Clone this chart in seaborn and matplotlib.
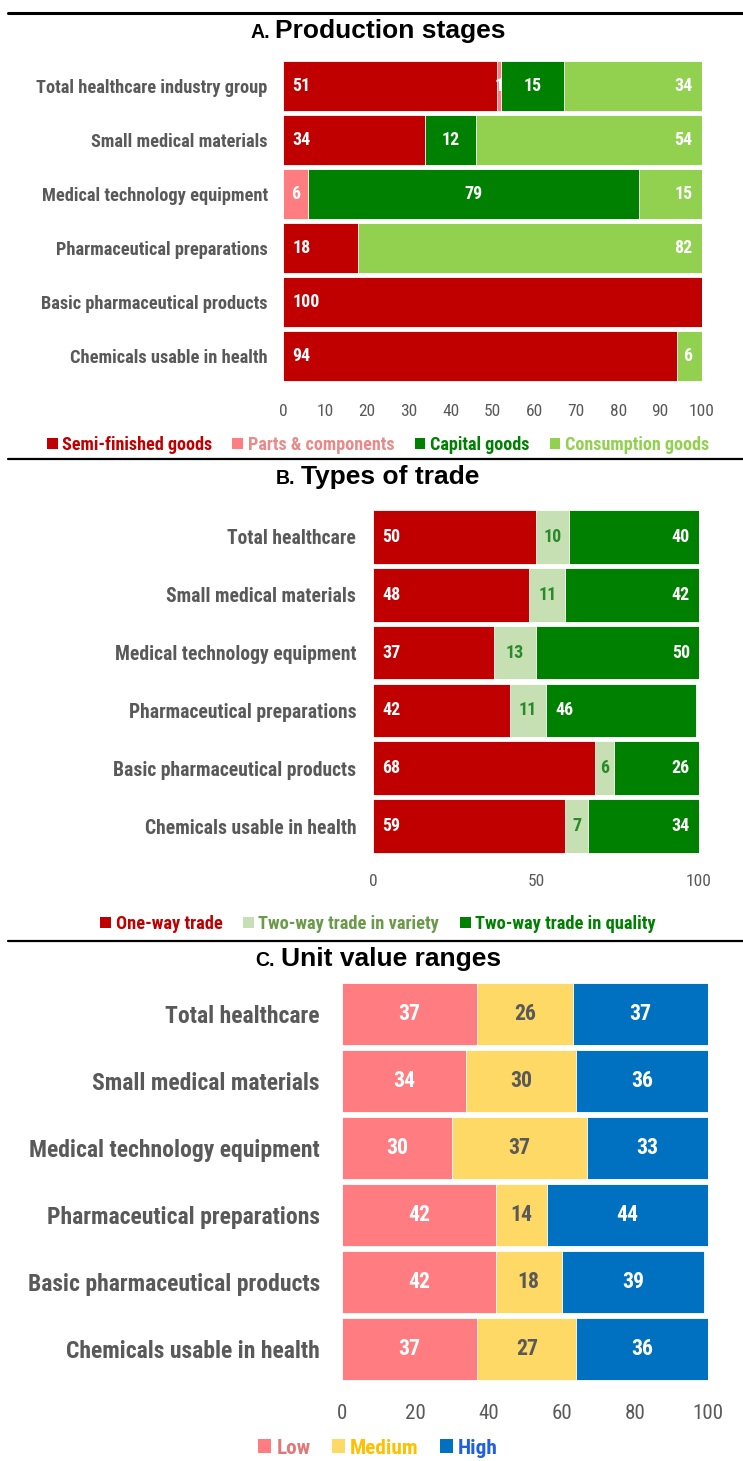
import numpy as np
import matplotlib.pyplot as plt
import seaborn as sns
from matplotlib import font_manager
from matplotlib.patches import Patch
from matplotlib.lines import Line2D

sns.set_theme(style="white")

# use a condensed face if one is installed, otherwise plain Liberation Sans
installed = {f.name for f in font_manager.fontManager.ttflist}
NARROW = next((n for n in ["Liberation Sans Narrow", "Roboto Condensed", "Open Sans Condensed",
                           "DejaVu Sans Condensed"] if n in installed), None)
K = 1.12 if NARROW else 1.0
plt.rcParams['font.family'] = ([NARROW] if NARROW else []) + ['Liberation Sans', 'DejaVu Sans']
TITLE_FONT = ['Liberation Sans', 'DejaVu Sans']

GREY = "#595959"

# ---- data ----
# A. Production stages (share %, top to bottom)
cats_a = ["Total healthcare industry group", "Small medical materials",
          "Medical technology equipment", "Pharmaceutical preparations",
          "Basic pharmaceutical products", "Chemicals usable in health"]
semi_finished = [51, 34, 0, 18, 100, 94]
parts_components = [1, 0, 6, 0, 0, 0]
capital_goods = [15, 12, 79, 0, 0, 0]
consumption_goods = [34, 54, 15, 82, 0, 6]
series_a = ["Semi-finished goods", "Parts & components", "Capital goods", "Consumption goods"]

# B. Types of trade
cats_b = ["Total healthcare", "Small medical materials", "Medical technology equipment",
          "Pharmaceutical preparations", "Basic pharmaceutical products",
          "Chemicals usable in health"]
one_way = [50, 48, 37, 42, 68, 59]
two_way_variety = [10, 11, 13, 11, 6, 7]
two_way_quality = [40, 42, 50, 46, 26, 34]
series_b = ["One-way trade", "Two-way trade in variety", "Two-way trade in quality"]

# C. Unit value ranges
cats_c = cats_b
low = [37, 34, 30, 42, 42, 37]
medium = [26, 30, 37, 14, 18, 27]
high = [37, 36, 33, 44, 39, 36]
series_c = ["Low", "Medium", "High"]

W, H = 743, 1461
fig = plt.figure(figsize=(W / 100, H / 100), dpi=100)


def px_axes(x0, x1, y0, y1):
    return fig.add_axes([x0 / W, 1 - y1 / H, (x1 - x0) / W, (y1 - y0) / H])


def stacked(ax, cats, values, colors, label_colors, aligns, pad, fs, overrides=None):
    vals = np.array(values, dtype=float)
    cum = np.cumsum(vals, axis=0)
    # draw cumulative totals from the back so each series sits on top of the previous
    for i in reversed(range(len(vals))):
        sns.barplot(x=cum[i], y=cats, color=colors[i], width=0.93, orient="h",
                    saturation=1, edgecolor="white", linewidth=0.6, ax=ax)
    overrides = overrides or {}
    for i in range(len(vals)):
        for j in range(len(cats)):
            v = vals[i, j]
            if v <= 0:
                continue
            left = cum[i, j] - v
            al = overrides.get((i, j), aligns[i])
            if al == "left":
                x, ha = left + pad, "left"
            elif al == "right":
                x, ha = min(cum[i, j], 100) - pad, "right"
            else:
                x, ha = left + v / 2, "center"
            ax.text(x, j, f"{v:.0f}", ha=ha, va="center", color=label_colors[i],
                    fontsize=fs * K, fontweight="bold")
    ax.set_xlim(0, 100)
    ax.set_xlabel("")
    ax.set_ylabel("")
    sns.despine(ax=ax, left=True, bottom=True)
    ax.tick_params(length=0)


def style_ticks(ax, xpad, xfs, ypad, yfs):
    ax.tick_params(axis="x", pad=xpad, labelsize=xfs * K, labelcolor=GREY)
    ax.tick_params(axis="y", pad=ypad, labelsize=yfs * K, labelcolor=GREY)
    for t in ax.get_yticklabels():
        t.set_fontweight("bold")


def legend(y, labels, colors, text_colors, fs, spacing):
    handles = [Patch(facecolor=c, edgecolor="none") for c in colors]
    fig.legend(handles, labels, loc="center", bbox_to_anchor=(378 / W, 1 - y / H),
               ncol=len(labels), frameon=False, handlelength=0.6,
               handleheight=0.6, handletextpad=0.25, columnspacing=spacing,
               labelcolor=text_colors, prop={"weight": "bold", "size": fs * K})


renderer = fig.canvas.get_renderer()


def title(y, letter, text, fs):
    # small-caps style letter followed by the panel title, centred as one line
    yy = 1 - y / H
    pre = fig.text(0, yy, letter, ha="left", va="baseline", fontsize=fs * 0.74,
                   fontweight="bold", family=TITLE_FONT, color="black")
    main = fig.text(0, yy, text, ha="left", va="baseline", fontsize=fs,
                    fontweight="bold", family=TITLE_FONT, color="black")
    w_pre = pre.get_window_extent(renderer).width
    w_main = main.get_window_extent(renderer).width
    gap = fs * 0.3
    x0 = 378 - (w_pre + gap + w_main) / 2
    pre.set_x(x0 / W)
    main.set_x((x0 + w_pre + gap) / W)


# separator lines
for yy, lw in [(13, 2.2), (459, 1.6), (941, 1.6)]:
    fig.add_artist(Line2D([8 / W, 1], [1 - yy / H, 1 - yy / H], color="black", lw=lw))

# ---- panel A ----
axA = px_axes(283, 702, 59, 383)
stacked(axA, cats_a, [semi_finished, parts_components, capital_goods, consumption_goods],
        ["#C00000", "#FF7C80", "#008000", "#92D050"], ["white"] * 4,
        ["left", "center", "center", "right"], 2.3, 11.5)
axA.set_xticks(range(0, 101, 10))
style_ticks(axA, 15, 11.2, 11, 11.8)
title(38, "A.", "Production stages", 19)
legend(445, series_a, ["#C00000", "#FF7C80", "#008000", "#92D050"],
       ["#C00000", "#E98A8A", "#008000", "#92D050"], 11.7, 1.1)

# ---- panel B ----
axB = px_axes(373, 699, 508, 855)
stacked(axB, cats_b, [one_way, two_way_variety, two_way_quality],
        ["#C00000", "#C6E0B4", "#008000"], ["white", "#2A8A2A", "white"],
        ["left", "center", "right"], 2.8, 11.5, overrides={(2, 3): "left"})
axB.set_xticks([0, 50, 100])
style_ticks(axB, 14, 11.2, 12, 12.6)
title(484, "B.", "Types of trade", 19)
legend(924, series_b, ["#C00000", "#C6E0B4", "#008000"],
       ["#C00000", "#6A9A4A", "#008000"], 11.85, 1.1)

# ---- panel C ----
axC = px_axes(342, 708, 981, 1382)
stacked(axC, cats_c, [low, medium, high],
        ["#FF7C80", "#FFD966", "#0070C0"], ["white", GREY, "white"],
        ["center", "center", "center"], 0, 14)
axC.set_xticks(range(0, 101, 20))
style_ticks(axC, 16, 13.5, 16, 15.2)
title(966, "C.", "Unit value ranges", 19)
legend(1448, series_c, ["#FF7C80", "#FFD966", "#0070C0"],
       ["#E07A7A", "#FFC000", "#1F5FE0"], 13.7, 1.0)

fig.savefig("out.png", dpi=100)
